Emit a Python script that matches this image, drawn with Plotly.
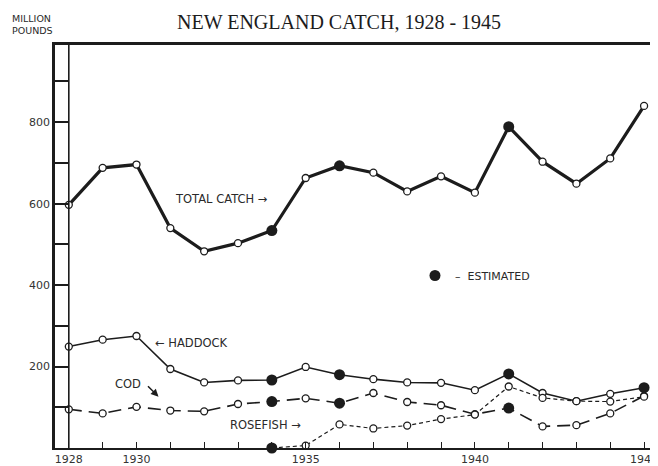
import plotly.graph_objects as go

years = list(range(1928, 1946))
total_catch = [597, 688, 696, 540, 483, 503, 534, 663, 693, 676, 630, 667, 627, 789, 703, 649, 711, 840]
haddock = [249, 266, 275, 194, 161, 166, 167, 199, 180, 169, 161, 160, 142, 182, 135, 115, 133, 148]
cod = [95, 85, 101, 92, 90, 108, 114, 122, 110, 135, 113, 105, 83, 98, 53, 56, 85, 128]
rosefish = [None, None, None, None, None, None, 0, 6, 58, 48, 55, 71, 82, 151, 123, 115, 114, 126]

total_est = [1934, 1936, 1941]
haddock_est = [1934, 1936, 1941, 1945]
cod_est = [1934, 1936, 1941]
rosefish_est = [1934]

y_tick_vals = [0, 100, 200, 300, 400, 500, 600, 700, 800, 900]
y_tick_text = ["", "", "200", "", "400", "", "600", "", "800", ""]
x_tick_vals = years
x_tick_text = ["1928", "", "1930", "", "", "", "", "1935", "", "", "", "", "1940", "", "", "", "", "1945"]

INK = "#1c1c1c"
SANS = "DejaVu Sans"

fig = go.Figure()

series = [
    ("TOTAL CATCH", total_catch, total_est, dict(width=3.2, color=INK)),
    ("HADDOCK", haddock, haddock_est, dict(width=1.6, color=INK)),
    ("COD", cod, cod_est, dict(width=1.6, color=INK, dash="13px,7px")),
    ("ROSEFISH", rosefish, rosefish_est, dict(width=1.2, color=INK, dash="4px,3px")),
]

for name, vals, est, line in series:
    fig.add_trace(go.Scatter(
        x=years, y=vals, mode="lines+markers", name=name, showlegend=False,
        line=line,
        marker=dict(symbol="circle", size=7, color="white", line=dict(color=INK, width=1.3)),
        connectgaps=False, cliponaxis=False,
    ))

first = True
for name, vals, est, line in series:
    ex = [y for y in years if y in est]
    ey = [vals[years.index(y)] for y in ex]
    fig.add_trace(go.Scatter(
        x=ex, y=ey, mode="markers", name="–  ESTIMATED", legendgroup="est",
        showlegend=first,
        marker=dict(symbol="circle", size=11, color=INK, line=dict(color=INK, width=0)),
        cliponaxis=False,
    ))
    first = False

# right-hand ticks
fig.add_trace(go.Scatter(x=[years[0]], y=[None], yaxis="y2", showlegend=False, hoverinfo="skip"))

# vertical line at 1928
fig.add_shape(type="line", xref="x", yref="paper", x0=years[0], x1=years[0], y0=0, y1=1,
              line=dict(color=INK, width=1.6))
# top rule running to the page edge
fig.add_shape(type="line", xref="paper", yref="paper", x0=0, x1=1.015, y0=1, y1=1,
              line=dict(color=INK, width=2.2))

label_font = dict(family=SANS, size=11.5, color="#2a2a2a")
fig.add_annotation(x=1932.52, y=612, text="TOTAL CATCH →", showarrow=False, font=label_font)
fig.add_annotation(x=1931.64, y=258, text="← HADDOCK", showarrow=False, font=label_font)
fig.add_annotation(x=1929.75, y=158, text="COD", showarrow=False, font=label_font)
fig.add_annotation(x=1930.65, y=126, ax=-12, ay=-12, text="", showarrow=True,
                   arrowhead=2, arrowsize=1, arrowwidth=1.5, arrowcolor=INK)
fig.add_annotation(x=1933.8, y=57, text="ROSEFISH →", showarrow=False, font=label_font)

fig.add_annotation(xref="paper", yref="paper", x=0.478, y=1, yshift=22, xanchor="center", yanchor="middle",
                   text="NEW ENGLAND CATCH, 1928 - 1945", showarrow=False,
                   font=dict(family="Liberation Serif", size=20, color=INK))
fig.add_annotation(xref="paper", yref="paper", x=-0.075, y=1, yshift=20, xanchor="left", yanchor="middle",
                   text="MILLION<br>POUNDS", showarrow=False, align="left",
                   font=dict(family=SANS, size=9.5, color="#2a2a2a"))

fig.update_layout(
    width=658, height=466,
    margin=dict(l=47, r=8, t=36, b=22),
    paper_bgcolor="white", plot_bgcolor="white",
    showlegend=True,
    legend=dict(x=0.605, y=0.427, xanchor="left", yanchor="middle", bgcolor="rgba(0,0,0,0)",
                font=dict(family=SANS, size=11, color="#2a2a2a"), itemwidth=30),
    xaxis=dict(range=[1927.592, 1945.175], tickvals=x_tick_vals, ticktext=x_tick_text,
               ticks="inside", ticklen=6, tickwidth=1.3, tickcolor=INK,
               showline=True, linewidth=2.2, linecolor=INK, mirror=True,
               showgrid=False, zeroline=False,
               tickfont=dict(family=SANS, size=11, color="#333")),
    yaxis=dict(range=[0, 992], tickvals=y_tick_vals, ticktext=y_tick_text,
               ticks="inside", ticklen=14, tickwidth=1.5, tickcolor=INK,
               showline=True, linewidth=2.6, linecolor=INK,
               showgrid=False, zeroline=False,
               tickfont=dict(family=SANS, size=11, color="#333")),
    yaxis2=dict(range=[0, 992], overlaying="y", side="right", tickvals=y_tick_vals[1:],
                ticks="outside", ticklen=7, tickwidth=1.3, tickcolor=INK,
                showticklabels=False, showline=False, showgrid=False, zeroline=False),
)

fig.write_html("out.html")
